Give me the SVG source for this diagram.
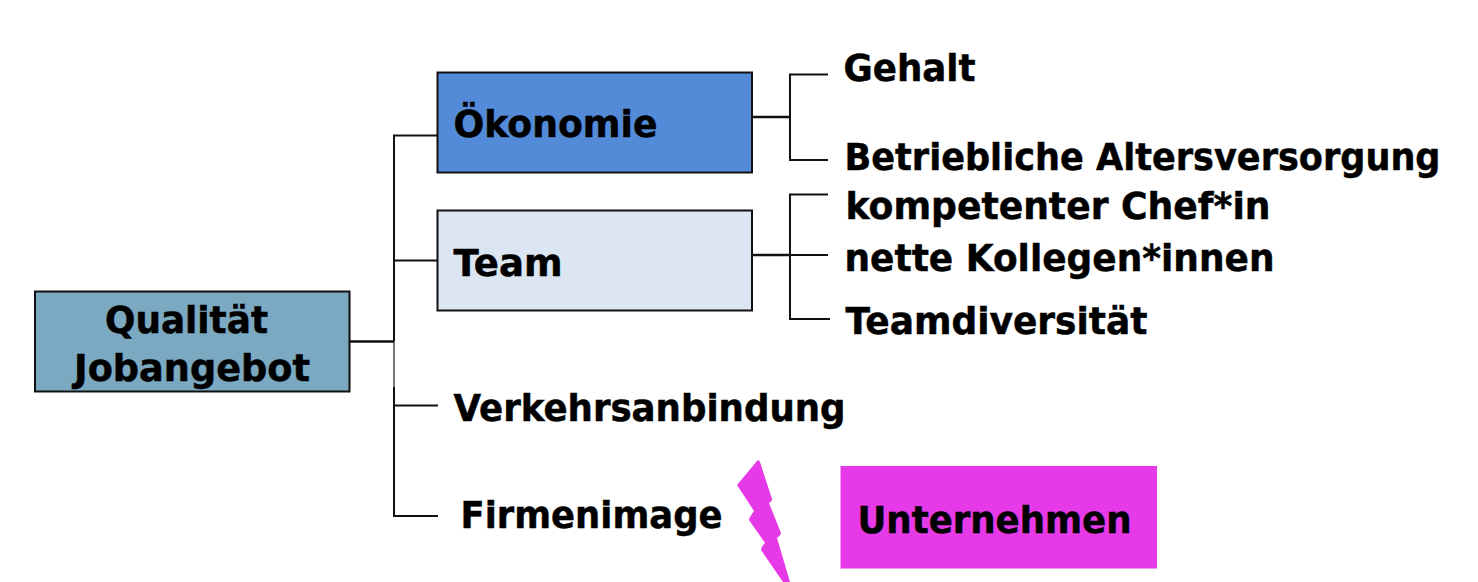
<svg xmlns="http://www.w3.org/2000/svg" width="1478" height="582" viewBox="0 0 1478 582">
<style>
text{font-family:"DejaVu Sans","Liberation Sans",sans-serif;font-weight:700;font-size:38px;fill:#000;stroke:#000;stroke-width:.5}
.box{stroke:#111;stroke-width:2}
.c{fill:none;stroke:#111;stroke-width:2}
.t{stroke-width:2.6}
.g{fill:none;stroke:#777;stroke-width:2}
</style>
<rect width="1478" height="582" fill="#fff"/>
<g id="connectors">
<path class="g" d="M394 341.500V387"/>
<path class="c t" d="M350 341.500H394"/>
<path class="c" d="M394 341.500V135.500H438M394 260.500H438"/>
<path class="c" d="M394 387V516H438M394 405.500H438"/>
<path class="c t" d="M752 117H790"/>
<path class="c" d="M828 74.500H790V160H828"/>
<path class="c t" d="M752 255H790"/>
<path class="c" d="M828 194.500H790V319H830M790 255H828"/>
</g>
<g id="root"><rect class="box" x="35" y="291.500" width="314.500" height="100" fill="#7aa9c1"/>
<text x="186.500" y="332.500" text-anchor="middle" textLength="163" lengthAdjust="spacingAndGlyphs">Qualität</text>
<text x="192" y="380.500" text-anchor="middle" textLength="236" lengthAdjust="spacingAndGlyphs">Jobangebot</text></g>
<g id="oekonomie"><rect class="box" x="437.500" y="72.500" width="314.500" height="100" fill="#538bd8"/>
<text x="453.500" y="137" textLength="204" lengthAdjust="spacingAndGlyphs">Ökonomie</text></g>
<g id="team"><rect class="box" x="437.500" y="210.500" width="314.500" height="100" fill="#dce6f2"/>
<text x="453.500" y="275.500" textLength="109" lengthAdjust="spacingAndGlyphs">Team</text></g>
<g id="gehalt"><text x="843.500" y="81" textLength="132" lengthAdjust="spacingAndGlyphs">Gehalt</text></g>
<g id="altersversorgung"><text x="844.500" y="169.500" textLength="596" lengthAdjust="spacingAndGlyphs">Betriebliche Altersversorgung</text></g>
<g id="chef"><text x="845.500" y="218.500" textLength="425" lengthAdjust="spacingAndGlyphs">kompetenter Chef*in</text></g>
<g id="kollegen"><text x="844.500" y="270.500" textLength="430" lengthAdjust="spacingAndGlyphs">nette Kollegen*innen</text></g>
<g id="diversitaet"><text x="845.500" y="333.500" textLength="302" lengthAdjust="spacingAndGlyphs">Teamdiversität</text></g>
<g id="verkehr"><text x="453.500" y="420.500" textLength="392" lengthAdjust="spacingAndGlyphs">Verkehrsanbindung</text></g>
<g id="firmenimage"><text x="460.500" y="527.500" textLength="262" lengthAdjust="spacingAndGlyphs">Firmenimage</text></g>
<g id="blitz"><path d="M757 461Q759 459 760 462L772 499Q773 501 769 503L781 533Q781 535 777 538L790 582H783L761 550Q761 547 765 543L749 520Q749 518 754 511L737 485Z" fill="#e639e8"/></g>
<g id="unternehmen"><rect x="840.500" y="466" width="316.500" height="102.500" fill="#e639e8"/>
<text x="857.500" y="532.500" textLength="274" lengthAdjust="spacingAndGlyphs">Unternehmen</text></g>
</svg>
